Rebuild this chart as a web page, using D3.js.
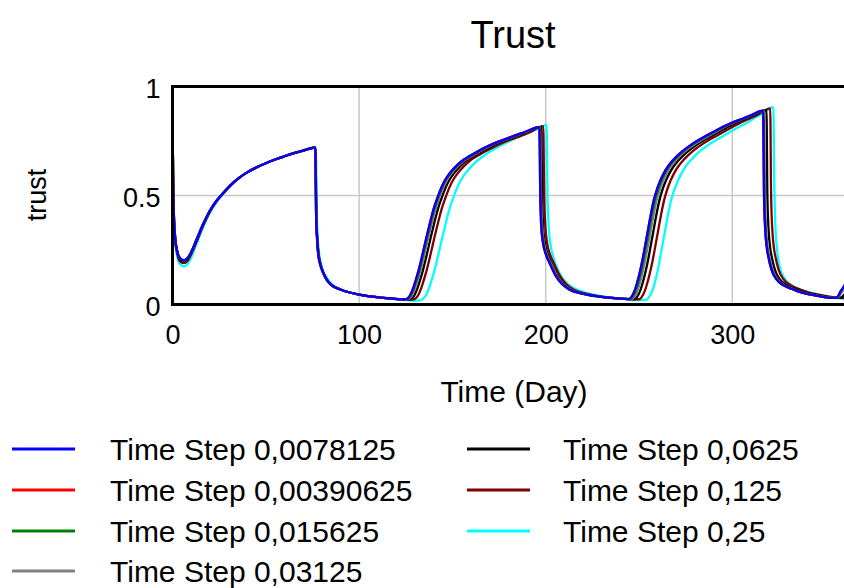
<!DOCTYPE html>
<html><head><meta charset="utf-8">
<script src="https://cdn.jsdelivr.net/npm/d3@7"></script>
<style>html,body{margin:0;padding:0;background:#fff;}svg{display:block;font-family:"Liberation Sans",Arial,sans-serif;}</style>
</head><body>
<svg id="chart" width="844" height="588"></svg>
<script>
const title = "Trust";
const xLabel = "Time (Day)";
const yLabel = "trust";
const xTicks = [0, 100, 200, 300];
const yTicks = [0, 0.5, 1];
const yTickLabels = ["0", "0.5", "1"];
const seriesNames = ["Time Step 0,0078125","Time Step 0,00390625","Time Step 0,015625","Time Step 0,03125","Time Step 0,0625","Time Step 0,125","Time Step 0,25"];
const seriesColors = ["#0000ff","#ff0000","#008000","#808080","#000000","#800000","#00ffff"];

const cycle1 = [[0,0.905],[0.3,0.6],[0.7,0.42],[1.5,0.3],[2.5,0.245],[4,0.212],[6,0.202],[8,0.212],[10,0.24],[13,0.3],[16.5,0.37],[20,0.43],[23.5,0.475],[27,0.51],[30,0.538],[33,0.562],[36,0.583],[40,0.606],[45,0.629],[50,0.648],[55,0.665],[60,0.68],[65,0.694],[70,0.706],[76.5,0.72],[77,0.4],[77.5,0.3],[78,0.24],[79,0.19],[80.5,0.15],[82.6,0.114],[85,0.09],[90,0.069],[95,0.055],[100,0.045],[106,0.037],[113,0.03],[119,0.026]];

const s0078 = cycle1.concat([[124.5,0.023],[126,0.028],[127.5,0.045],[129,0.075],[130.5,0.115],[132,0.16],[134,0.23],[136,0.305],[138,0.375],[140,0.44],[142,0.49],[144,0.535],[146,0.57],[148,0.596],[150,0.617],[153,0.643],[156,0.664],[159,0.68],[163,0.7],[168,0.722],[175,0.748],[181,0.767],[188,0.788],[196.6,0.813],[197.1,0.5],[197.6,0.36],[198.6,0.28],[200.1,0.23],[202.1,0.19],[205.5,0.13],[208.6,0.095],[212.6,0.069],[219.5,0.05],[227,0.038],[235,0.03],[242,0.026],[244.5,0.025],[246,0.035],[247.5,0.06],[249,0.1],[250.5,0.15],[252,0.21],[253.5,0.28],[255,0.35],[256.5,0.42],[258,0.48],[259.5,0.525],[261.5,0.57],[263.5,0.605],[265.5,0.633],[267.5,0.655],[270.5,0.682],[273.5,0.705],[277.5,0.73],[281.5,0.752],[285.5,0.772],[290,0.792],[295,0.815],[300,0.835],[305,0.851],[310,0.868],[316.5,0.889],[317,0.5],[317.6,0.35],[318.5,0.26],[319.3,0.22],[321,0.16],[323.8,0.114],[327,0.09],[332.7,0.069],[337,0.055],[341.6,0.046],[348,0.036],[354,0.03],[356,0.031],[358,0.06],[360,0.085],[362,0.12]]);

const s0039 = cycle1.concat([[124.5,0.023],[126,0.028],[127.5,0.045],[129,0.075],[130.5,0.115],[132,0.16],[134,0.23],[136,0.305],[138,0.375],[140,0.44],[142,0.49],[144,0.535],[146,0.57],[148,0.596],[150,0.617],[153,0.643],[156,0.664],[159,0.68],[163,0.7],[168,0.722],[175,0.748],[181,0.767],[188,0.788],[196.6,0.813],[197.1,0.5],[197.6,0.36],[198.6,0.28],[200.1,0.23],[202.1,0.19],[205.5,0.13],[208.6,0.095],[212.6,0.069],[219.5,0.05],[227,0.038],[235,0.03],[242,0.026],[244.5,0.025],[246,0.035],[247.5,0.06],[249,0.1],[250.5,0.15],[252,0.21],[253.5,0.28],[255,0.35],[256.5,0.42],[258,0.48],[259.5,0.525],[261.5,0.57],[263.5,0.605],[265.5,0.633],[267.5,0.655],[270.5,0.682],[273.5,0.705],[277.5,0.73],[281.5,0.752],[285.5,0.772],[290,0.792],[295,0.815],[300,0.835],[305,0.851],[310,0.868],[316.5,0.889],[317,0.5],[317.6,0.35],[318.5,0.26],[319.3,0.22],[321,0.16],[323.8,0.114],[327,0.09],[332.7,0.069],[337,0.055],[341.6,0.046],[348,0.036],[354,0.03],[356,0.031],[358,0.06],[360,0.085],[362,0.12]]);

const s0156 = cycle1.concat([[124.9,0.023],[126.4,0.028],[127.9,0.045],[129.4,0.075],[130.9,0.115],[132.4,0.16],[134.4,0.23],[136.4,0.305],[138.4,0.375],[140.4,0.44],[142.4,0.49],[144.4,0.535],[146.4,0.57],[148.4,0.596],[150.4,0.617],[153.4,0.643],[156.4,0.664],[159.4,0.68],[163.4,0.7],[168.3,0.722],[175.2,0.748],[181.2,0.767],[188.2,0.788],[196.8,0.813],[197.3,0.5],[197.8,0.36],[198.8,0.28],[200.3,0.23],[202.3,0.19],[205.7,0.13],[208.8,0.095],[212.8,0.069],[219.7,0.05],[227,0.038],[235,0.03],[242,0.026],[245.1,0.025],[246.6,0.035],[248.1,0.06],[249.6,0.1],[251.1,0.15],[252.6,0.21],[254.1,0.28],[255.6,0.35],[257.1,0.42],[258.6,0.48],[260.1,0.525],[262.1,0.57],[264.1,0.605],[266.1,0.633],[268.1,0.655],[271.1,0.682],[274.1,0.705],[278,0.73],[282,0.752],[286,0.772],[290.4,0.792],[295.3,0.814],[300.2,0.834],[305.1,0.85],[310.1,0.867],[316.7,0.889],[317.2,0.5],[317.8,0.35],[318.7,0.26],[319.5,0.22],[321.2,0.16],[324,0.114],[327.2,0.09],[332.9,0.069],[337.2,0.055],[341.8,0.046],[348.2,0.036],[354.2,0.03],[356.2,0.031],[358.1,0.058],[360,0.082],[362,0.115]]);

const s0312 = cycle1.concat([[125.5,0.023],[127,0.028],[128.5,0.045],[130,0.075],[131.5,0.115],[133,0.16],[135,0.23],[137,0.305],[139,0.375],[141,0.44],[143,0.49],[145,0.535],[147,0.57],[149,0.596],[151,0.617],[154,0.643],[157,0.664],[160,0.68],[164,0.7],[169,0.722],[175.5,0.748],[181.5,0.767],[188.5,0.788],[197,0.814],[197.5,0.5],[198.1,0.36],[199.1,0.28],[200.6,0.23],[202.7,0.19],[206.1,0.13],[209.2,0.095],[213.2,0.069],[220,0.05],[227.3,0.038],[235,0.03],[242,0.026],[246,0.025],[247.5,0.035],[249,0.06],[250.5,0.1],[252,0.15],[253.5,0.21],[255,0.28],[256.5,0.35],[258,0.42],[259.5,0.48],[261,0.525],[263,0.57],[265,0.605],[267,0.633],[269,0.655],[272,0.682],[275,0.705],[279,0.73],[283,0.752],[287,0.772],[291,0.791],[295.5,0.813],[300.5,0.834],[305.3,0.85],[310.3,0.867],[317,0.89],[317.5,0.5],[318.1,0.35],[319,0.26],[319.8,0.22],[321.5,0.16],[324.3,0.114],[327.5,0.09],[333.2,0.069],[337.5,0.055],[342,0.046],[348.5,0.036],[354.5,0.03],[356.5,0.031],[358.2,0.05],[360,0.075],[362,0.11]]);

const s0625 = [[0,0.905],[0.3,0.6],[0.7,0.42],[1.5,0.3],[2.5,0.243],[4,0.208],[6,0.198],[8,0.208],[10,0.236],[13,0.296],[16.5,0.367],[20,0.428],[23.5,0.474],[27,0.509],[30,0.537],[33,0.562],[36,0.583],[40,0.606],[45,0.629],[50,0.648],[55,0.665],[60,0.68],[65,0.694],[70,0.706],[76.6,0.72],[77.1,0.4],[77.6,0.3],[78.1,0.24],[79.1,0.19],[80.6,0.15],[82.7,0.114],[85.1,0.09],[90,0.069],[95,0.055],[100,0.045],[106,0.037],[113,0.03],[119,0.026],[126.8,0.023],[128.3,0.028],[129.8,0.045],[131.3,0.075],[132.8,0.115],[134.3,0.16],[136.3,0.23],[138.3,0.305],[140.3,0.375],[142.3,0.44],[144.3,0.49],[146.3,0.535],[148.3,0.57],[150.3,0.596],[152.3,0.617],[155.2,0.643],[158.1,0.664],[161,0.68],[165,0.7],[170,0.722],[176.5,0.748],[182.5,0.767],[189.5,0.788],[197.6,0.815],[198.1,0.5],[198.6,0.36],[199.6,0.28],[201.1,0.23],[203.1,0.19],[206.5,0.13],[209.6,0.095],[213.6,0.069],[220.5,0.05],[227.5,0.038],[235,0.03],[242,0.026],[247.5,0.025],[249,0.035],[250.5,0.06],[252,0.1],[253.5,0.15],[255,0.21],[256.5,0.28],[258,0.35],[259.5,0.42],[261,0.48],[262.5,0.525],[264.5,0.57],[266.5,0.605],[268.5,0.633],[270.5,0.655],[273.5,0.682],[276.5,0.705],[280.5,0.73],[284.5,0.752],[288.5,0.771],[292.5,0.79],[297,0.812],[301.5,0.832],[306,0.848],[311,0.866],[318.3,0.892],[318.8,0.5],[319.4,0.35],[320.3,0.26],[321.1,0.22],[322.8,0.16],[325.6,0.114],[328.8,0.09],[334.5,0.069],[339,0.055],[343.4,0.046],[349.8,0.036],[355.8,0.03],[358,0.031],[360,0.045],[362,0.07]];

const s125 = [[0,0.905],[0.3,0.59],[0.7,0.41],[1.5,0.29],[2.5,0.235],[4,0.198],[6,0.19],[8,0.2],[10,0.23],[13,0.29],[16.5,0.363],[20,0.425],[23.5,0.472],[27,0.508],[30,0.536],[33,0.561],[36,0.582],[40,0.606],[45,0.629],[50,0.648],[55,0.665],[60,0.68],[65,0.694],[70,0.706],[76.6,0.721],[77.1,0.41],[77.6,0.3],[78.2,0.24],[79.2,0.19],[80.7,0.15],[82.8,0.114],[85.2,0.09],[90,0.069],[95,0.055],[100,0.045],[106,0.037],[113,0.03],[119,0.026],[125,0.023],[128.8,0.023],[130.3,0.028],[131.8,0.045],[133.3,0.075],[134.8,0.115],[136.3,0.16],[138.3,0.23],[140.3,0.305],[142.3,0.375],[144.3,0.44],[146.3,0.49],[148.3,0.535],[150.3,0.57],[152.3,0.596],[154.3,0.617],[157.2,0.643],[160,0.664],[163,0.68],[167,0.7],[172,0.722],[178,0.746],[184,0.765],[191,0.788],[198.7,0.818],[199.2,0.5],[199.8,0.36],[200.8,0.28],[202.3,0.23],[204.3,0.19],[207.7,0.13],[210.8,0.095],[214.8,0.069],[221.5,0.05],[228.5,0.038],[236,0.03],[244,0.025],[250,0.024],[251.5,0.035],[253,0.06],[254.5,0.1],[256,0.15],[257.5,0.21],[259,0.28],[260.5,0.35],[262,0.42],[263.5,0.48],[265,0.525],[267,0.57],[269,0.605],[271,0.633],[273,0.655],[276,0.682],[279,0.705],[283,0.73],[287,0.752],[291,0.771],[295,0.79],[299.5,0.812],[304,0.832],[308.5,0.85],[313.5,0.869],[320.3,0.9],[320.8,0.5],[321.4,0.35],[322.3,0.26],[323.1,0.22],[324.8,0.16],[327.6,0.114],[331,0.09],[336.5,0.069],[341,0.055],[345.5,0.046],[352,0.036],[358,0.03],[362,0.029]];

const s25 = [[0,0.905],[0.3,0.58],[0.7,0.4],[1.5,0.28],[2.5,0.22],[4,0.185],[6,0.175],[8,0.185],[10,0.215],[13,0.28],[16.5,0.355],[20,0.42],[23.5,0.468],[27,0.505],[30,0.534],[33,0.559],[36,0.581],[40,0.605],[45,0.628],[50,0.648],[55,0.665],[60,0.68],[65,0.694],[70,0.707],[76.8,0.723],[77.3,0.42],[77.8,0.31],[78.5,0.24],[79.5,0.19],[81,0.15],[83,0.118],[85.5,0.092],[90,0.07],[95,0.055],[100,0.045],[106,0.037],[113,0.03],[119,0.025],[125,0.02],[130,0.017],[133,0.02],[134.5,0.028],[136,0.045],[137.5,0.075],[139,0.115],[140.5,0.16],[142.5,0.23],[144.5,0.305],[146.5,0.375],[148.5,0.44],[150.5,0.49],[152.5,0.535],[154.5,0.57],[156.5,0.596],[158.5,0.617],[161.2,0.643],[164,0.664],[167,0.683],[171,0.706],[176,0.73],[182,0.755],[189,0.782],[195,0.803],[200.5,0.824],[201,0.5],[201.6,0.36],[202.5,0.28],[204,0.22],[206,0.17],[207.7,0.14],[210,0.11],[214,0.08],[220,0.058],[227,0.043],[235,0.032],[243,0.025],[249,0.02],[253.5,0.021],[255,0.03],[256.5,0.05],[258,0.085],[259.5,0.135],[261,0.2],[262.5,0.27],[264,0.34],[265.5,0.41],[267,0.47],[268.5,0.515],[270.5,0.56],[272.5,0.597],[274.5,0.627],[276.5,0.65],[279.5,0.678],[282.5,0.702],[286.5,0.728],[290.5,0.75],[294.5,0.77],[298.5,0.79],[303,0.812],[307.5,0.832],[312,0.855],[317,0.88],[322,0.905],[322.5,0.55],[323,0.38],[324,0.25],[325.5,0.17],[328,0.12],[332.7,0.084],[337,0.066],[341.6,0.056],[348,0.042],[354,0.032],[360,0.026],[363,0.023]];

const seriesData = [s0078, s0039, s0156, s0312, s0625, s125, s25];

const svg = d3.select("#chart");
svg.append("rect").attr("width",844).attr("height",588).attr("fill","#fff");

const pLeft = 172.5, pTop = 86.5, pBottom = 304.5, pRight = 918.9;
const x = d3.scaleLinear().domain([0, 400]).range([pLeft, pRight]);
const y = d3.scaleLinear().domain([0, 1]).range([pBottom, pTop]);

svg.append("defs").append("clipPath").attr("id","plotclip")
  .append("rect").attr("x",pLeft).attr("y",pTop-2).attr("width",pRight-pLeft).attr("height",pBottom-pTop+4);

// grid
const grid = svg.append("g");
grid.selectAll("line.vx").data(xTicks.filter(d=>d>0)).join("line")
  .attr("x1",d=>x(d)).attr("x2",d=>x(d)).attr("y1",pTop).attr("y2",pBottom)
  .attr("stroke","#c8c8c8").attr("stroke-width",1.5);
grid.selectAll("line.hy").data(yTicks.filter(d=>d>0 && d<1)).join("line")
  .attr("x1",pLeft).attr("x2",pRight).attr("y1",d=>y(d)).attr("y2",d=>y(d))
  .attr("stroke","#c8c8c8").attr("stroke-width",1.5);

// lines
const line = d3.line().x(d=>x(d[0])).y(d=>y(d[1])).curve(d3.curveMonotoneX);
const lg = svg.append("g").attr("clip-path","url(#plotclip)");
for (let i = seriesData.length - 1; i >= 0; i--) {
  lg.append("path").datum(seriesData[i]).attr("d", line)
    .attr("fill","none").attr("stroke", seriesColors[i]).attr("stroke-width", 2.3)
    .attr("stroke-linejoin","round");
}

// frame
svg.append("line").attr("x1",pLeft).attr("x2",844).attr("y1",pTop).attr("y2",pTop).attr("stroke","#000").attr("stroke-width",3);
svg.append("line").attr("x1",pLeft).attr("x2",844).attr("y1",pBottom).attr("y2",pBottom).attr("stroke","#000").attr("stroke-width",3);
svg.append("line").attr("x1",pLeft).attr("x2",pLeft).attr("y1",pTop-1.5).attr("y2",pBottom+1.5).attr("stroke","#000").attr("stroke-width",3);

// axes tick labels
const xAxis = d3.axisBottom(x).tickValues(xTicks).tickSize(0).tickPadding(0).tickFormat(d3.format("d"));
const gx = svg.append("g").attr("transform",`translate(0,${pBottom})`).call(xAxis);
gx.select(".domain").remove();
gx.selectAll("text").attr("font-size",27).attr("font-family","Liberation Sans, Arial, sans-serif").attr("fill","#000").attr("dy",null).attr("y",39);

const yAxis = d3.axisLeft(y).tickValues(yTicks).tickSize(0).tickPadding(0).tickFormat((d,i)=>yTickLabels[i]);
const gy = svg.append("g").attr("transform",`translate(${pLeft-12},0)`).call(yAxis);
gy.select(".domain").remove();
gy.selectAll("text").attr("font-size",27).attr("font-family","Liberation Sans, Arial, sans-serif").attr("fill","#000").attr("dy","0.42em");

// titles
svg.append("text").attr("x",513).attr("y",48).attr("text-anchor","middle").attr("font-size",38).text(title);
svg.append("text").attr("x",514).attr("y",402).attr("text-anchor","middle").attr("font-size",30).text(xLabel);
svg.append("text").attr("transform","translate(46,195) rotate(-90)").attr("text-anchor","middle").attr("font-size",27).text(yLabel);

// legend
const rows = [449, 490, 531, 571];
const legend = svg.append("g");
seriesNames.forEach((name, i) => {
  const col = i < 4 ? 0 : 1;
  const row = i < 4 ? i : i - 4;
  const lx = col === 0 ? 12 : 467;
  const tx = col === 0 ? 110 : 563;
  const ly = rows[row];
  legend.append("line").attr("x1",lx).attr("x2",lx+63).attr("y1",ly).attr("y2",ly)
    .attr("stroke",seriesColors[i]).attr("stroke-width",3);
  legend.append("text").attr("x",tx).attr("y",ly).attr("dy","0.36em").attr("font-size",30).text(name);
});
</script>
</body></html>
